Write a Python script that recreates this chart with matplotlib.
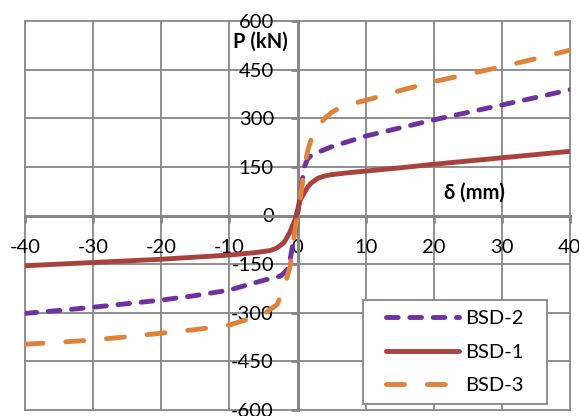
import matplotlib
matplotlib.use("Agg")
import matplotlib.pyplot as plt
from matplotlib.patches import Rectangle

plt.rcParams['font.family'] = ['Lato', 'DejaVu Sans']

# --- data
bsd1_x = [-40, -30, -20, -10, -6, -4, -3, -2.5, -2, -1.2, -0.4, 0.4, 1, 1.5, 2, 3, 4, 5, 7, 10, 15, 20, 25, 30, 35, 40]
bsd1_y = [-155, -145, -135, -122, -114, -108, -100, -92, -84, -55, -15, 48, 70, 88, 100, 115, 122, 126, 131, 137, 147, 158, 168, 178, 188, 198]

bsd2_x = [-40, -35, -30, -25, -20, -15, -10, -5, -2.5, -1.6, -1.1, -0.7, -0.3, 0, 0.5, 1, 1.5, 2, 3, 5, 10, 15, 20, 25, 30, 35, 40]
bsd2_y = [-302, -293, -283, -272, -261, -247, -230, -200, -187, -170, -137, -90, -40, 0, 80, 150, 175, 185, 195, 212, 245, 270, 295, 318, 341, 364, 388]

bsd3_x = [-40, -35, -30, -25, -20, -15, -10, -5, -3, -2.5, -1.8, -1.1, -0.4, 0, 0.4, 1, 1.5, 2, 3, 4, 5, 6, 8, 10, 15, 20, 25, 30, 35, 40]
bsd3_y = [-397, -391, -384, -374, -363, -352, -338, -305, -275, -250, -210, -158, -50, 0, 50, 150, 200, 235, 275, 300, 318, 330, 345, 355, 385, 413, 436, 459, 484, 510]

x_ticks = [-40, -30, -20, -10, 0, 10, 20, 30, 40]
y_ticks = [-600, -450, -300, -150, 0, 150, 300, 450, 600]

grey = "#878787"
fs = 14.5

fig = plt.figure(figsize=(5.79, 4.16), dpi=100)
ax = fig.add_axes([25 / 579, 6 / 416, 545 / 579, 389 / 416])

ax.plot(bsd2_x, bsd2_y, color="#7030A0", lw=3.5, dashes=(2.4, 2.4),
        dash_capstyle="round", solid_capstyle="round", label="BSD-2", zorder=4)
ax.plot(bsd1_x, bsd1_y, color="#A8423F", lw=3.5, solid_capstyle="round",
        label="BSD-1", zorder=4)
ax.plot(bsd3_x, bsd3_y, color="#E0823A", lw=3.5, dashes=(3.7, 4.7),
        dash_capstyle="round", label="BSD-3", zorder=4)

ax.set_xlim(-40, 40)
ax.set_ylim(-600, 600)
ax.set_xticks(x_ticks)
ax.set_yticks(y_ticks)
ax.set_xticklabels([str(v) for v in x_ticks])
ax.set_yticklabels([str(v) for v in y_ticks])

# axes through the origin, Excel style
ax.spines['left'].set_position(('data', 0))
ax.spines['bottom'].set_position(('data', 0))
for s in ['left', 'bottom']:
    ax.spines[s].set_color(grey)
    ax.spines[s].set_linewidth(2.2)
for s in ['top', 'right']:
    ax.spines[s].set_visible(False)

ax.grid(True, color=grey, lw=1.3)
ax.set_axisbelow(True)
for gl in ax.get_xgridlines() + ax.get_ygridlines():
    gl.set_clip_on(False)

ax.tick_params(axis='both', direction='out', length=5, width=2, color=grey,
               labelsize=fs, pad=12)

ax.text(-1.4, 535, "P (kN)", fontsize=fs, fontweight="bold", ha="right", va="center")
ax.text(26, 69, "δ (mm)", fontsize=fs, fontweight="bold", ha="center", va="center")

# legend box drawn separately so its padding can match the original
box = Rectangle((0.6197, 0.0154), 0.3376, 0.2674, transform=ax.transAxes,
                facecolor="white", edgecolor=grey, lw=1.3, zorder=5)
ax.add_patch(box)
leg = ax.legend(loc="center", bbox_to_anchor=(0.7884, 0.149), fontsize=fs,
                handlelength=3.6, handletextpad=0.3, labelspacing=0.82,
                borderpad=0.2, frameon=False)
leg.set_zorder(6)

fig.savefig("out.png", dpi=100)
